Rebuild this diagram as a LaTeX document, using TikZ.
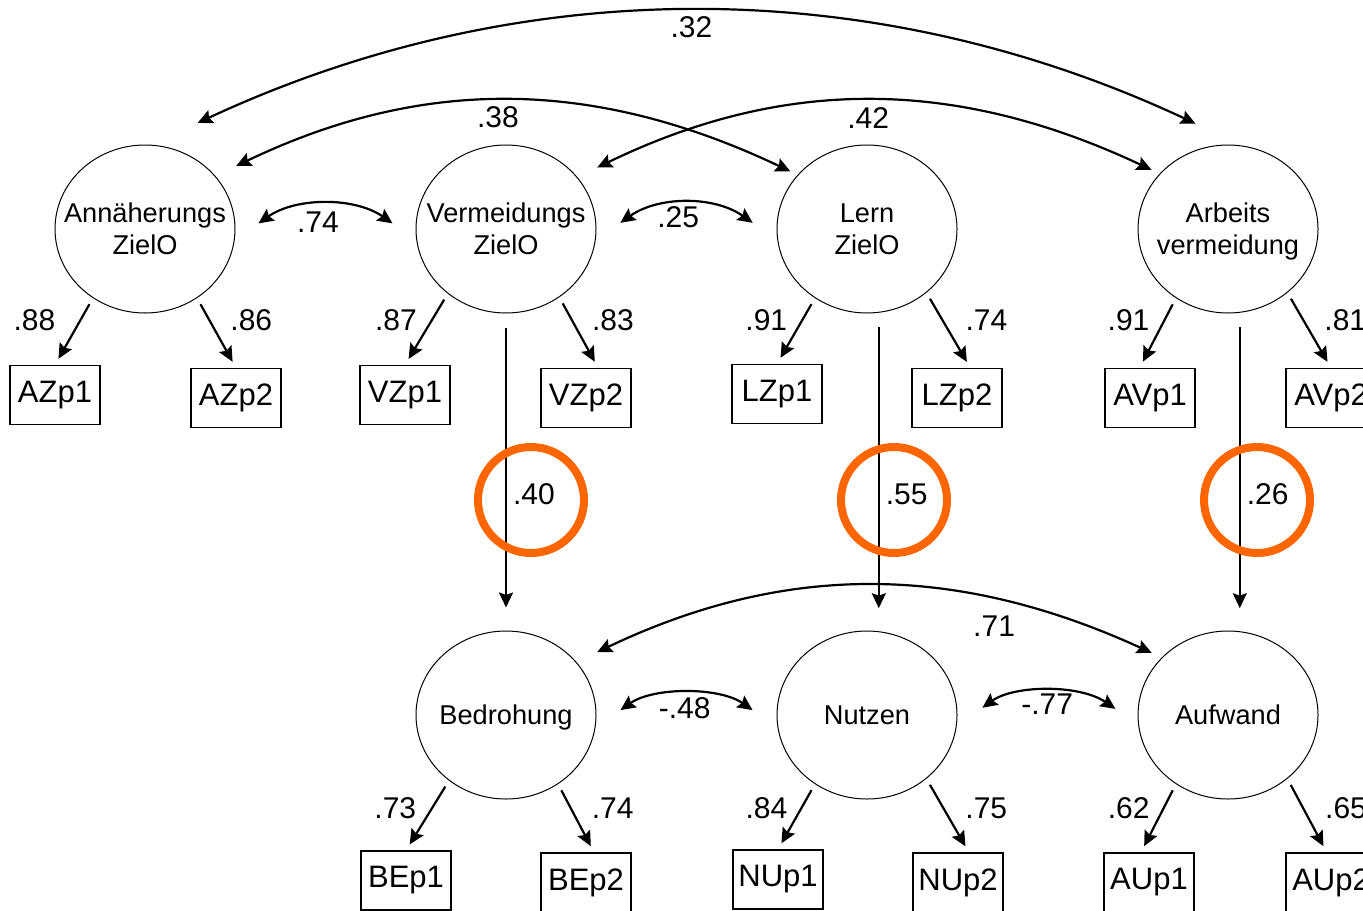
\documentclass[tikz,border=0pt]{standalone}
\usepackage{fontspec}
\setmainfont{Liberation Sans}
\usetikzlibrary{shapes.geometric}
\usetikzlibrary{positioning}
\usetikzlibrary{arrows.meta}
\definecolor{ringorange}{RGB}{255,102,0}
\tikzset{node distance=180.5pt,
    latent/.style={
        ellipse,
        draw,
        line width=0.5pt,
        minimum width=90pt,
        minimum height=84pt,
        inner xsep=-20pt,
        inner ysep=0pt,
        align=center,
        font=\fontsize{13.6}{16}\selectfont},
    indicator/.style={
        draw,
        line width=0.6pt,
        minimum width=45pt,
        minimum height=29.5pt,
        inner sep=0pt,
        font=\fontsize{15.5}{18}\selectfont},
    coef/.style={
        inner sep=0pt,
        font=\fontsize{15}{18}\selectfont},
    ring/.style={
        circle,
        draw=ringorange,
        line width=4pt,
        minimum size=53pt,
        inner sep=0pt},
    >={Stealth[length=7.5pt,width=7pt,inset=1.2pt]},
    loading/.style={
        ->,
        line width=1.1pt,
        shorten <=3.5pt,
        shorten >=3.5pt},
    regress/.style={
        ->,
        line width=1.1pt,
        shorten <=7pt,
        shorten >=11.5pt},
    corr/.style={
        <->,
        line width=1.1pt}}

\begin{document}
\begin{tikzpicture}[x=0.5pt,y=-0.5pt]
        \useasboundingbox (0,0) rectangle (1363,910);
        \clip (0,0) rectangle (1363,910);
        \node[latent] (AZ) at (145,229) {Annäherungs\\ZielO};
        \node[latent, right of=AZ] (VZ) {Vermeidungs\\ZielO};
        \node[latent, right of=VZ] (LZ) {Lern\\ZielO};
        \node[latent, right of=LZ, text depth=0pt] (AV) {Arbeits\\vermeidung};
        \node[latent, below of=VZ, node distance=243pt, text depth=0pt] (BE) {Bedrohung};
        \node[latent, right of=BE] (NU) {Nutzen};
        \node[latent, right of=NU] (AU) {Aufwand};

        \node[indicator] (AZp1) at (55,395) {AZp1};
        \node[indicator] (AZp2) at (236,398) {AZp2};
        \node[indicator] (VZp1) at (405,395) {VZp1};
        \node[indicator] (VZp2) at (586,398) {VZp2};
        \node[indicator] (LZp1) at (777,394) {LZp1};
        \node[indicator] (LZp2) at (957,398) {LZp2};
        \node[indicator] (AVp1) at (1150,398) {AVp1};
        \node[indicator] (AVp2) at (1331,398) {AVp2};
        \node[indicator] (BEp1) at (406,880.5) {BEp1};
        \node[indicator] (BEp2) at (586,882.5) {BEp2};
        \node[indicator] (NUp1) at (778,879.5) {NUp1};
        \node[indicator] (NUp2) at (958,882.5) {NUp2};
        \node[indicator] (AUp1) at (1149,882.5) {AUp1};
        \node[indicator] (AUp2) at (1331,882.5) {AUp2};

        \draw[loading] (AZ.233) -- node[coef, pos=.33, left=12pt] {.88} (AZp1.north);
        \draw[loading] (AZ.307) -- node[coef, pos=.315, right=10pt] {.86} (AZp2.north);
        \draw[loading] (VZ.228) -- node[coef, pos=.37, left=7pt] {.87} (VZp1.north);
        \draw[loading] (VZ.308) -- node[coef, pos=.324, right=9.5pt] {.83} (VZp2.68);
        \draw[loading] (LZ.233) -- node[coef, pos=.334, left=7pt] {.91} (LZp1.north);
        \draw[loading] (LZ.313) -- node[coef, pos=.364, right=11pt] {.74} (LZp2.66);
        \draw[loading] (AV.233) -- node[coef, pos=.315, left=7pt] {.91} (AVp1.109);
        \draw[loading] (AV.313) -- node[coef, pos=.364, right=10pt] {.81} (AVp2.north);
        \draw[loading] (BE.229) -- node[coef, pos=.39, left=7.5pt] {.73} (BEp1.north);
        \draw[loading] (BE.307) -- node[coef, pos=.35, right=10pt] {.74} (BEp2.75);
        \draw[loading] (NU.233) -- node[coef, pos=.367, left=6.5pt] {.84} (NUp1.north);
        \draw[loading] (NU.313) -- node[coef, pos=.398, right=10.5pt] {.75} (NUp2.70);
        \draw[loading] (AU.233) -- node[coef, pos=.35, left=6.5pt] {.62} (AUp1.105);
        \draw[loading] (AU.313) -- node[coef, pos=.398, right=10.5pt] {.65} (AUp2.98);

        \draw[regress] (VZ) -- node[coef, pos=.57, right=3pt] (b40) {.40} (BE);
        \draw[regress] (LZ.278) -- node[coef, pos=.57, right=3pt] (b55) {.55} (NU.82);
        \draw[regress] (AV.278) -- node[coef, pos=.57, right=3pt] (b26) {.26} (AU.82);

        \draw[corr, shorten <=25.75pt, shorten >=26pt] (AZ.86) to[bend left=25, looseness=.96]
            node[coef, pos=.495, yshift=-6pt] {.32} (AV.80);
        \draw[corr, shorten <=11.5pt, shorten >=4pt] (AZ.37) to[bend left=25.5]
            node[coef, pos=.485, yshift=-7.5pt] {.38} (LZ.142);
        \draw[corr, shorten <=11pt, shorten >=4.5pt] (VZ.36) to[bend left=25.5]
            node[coef, pos=.5, yshift=-8pt] {.42} (AV.141);
        \draw[corr, shorten <=11.5pt, shorten >=5.5pt] (BE.37) to[bend left=25]
            node[coef, pos=.72, yshift=-12.9pt] {.71} (AU.139);
        \draw[corr, shorten <=14.5pt, shorten >=14.5pt] (AZ.353) to[bend left=35, looseness=1.06]
            node[coef, pos=.458, yshift=-7.3pt] {.74} (VZ.187);
        \draw[corr, shorten <=15pt, shorten >=15pt] (VZ.353) to[bend left=35, looseness=1.09]
            node[coef, pos=.453, yshift=-5.25pt] {.25} (LZ.187);
        \draw[corr, shorten <=15.25pt, shorten >=15.25pt] (BE.352) to[bend left=35]
            node[coef, pos=.49, yshift=-5.65pt] {-.48} (NU.188);
        \draw[corr, shorten <=15.75pt, shorten >=13.75pt] (NU.353) to[bend left=35]
            node[coef, pos=.5, yshift=-4.75pt] {-.77} (AU.186);

        \node[ring] (ring40) at (531,500) {};
        \node[ring] (ring55) at (894,500) {};
        \node[ring] (ring26) at (1257,500) {};
    \end{tikzpicture}
\end{document}
